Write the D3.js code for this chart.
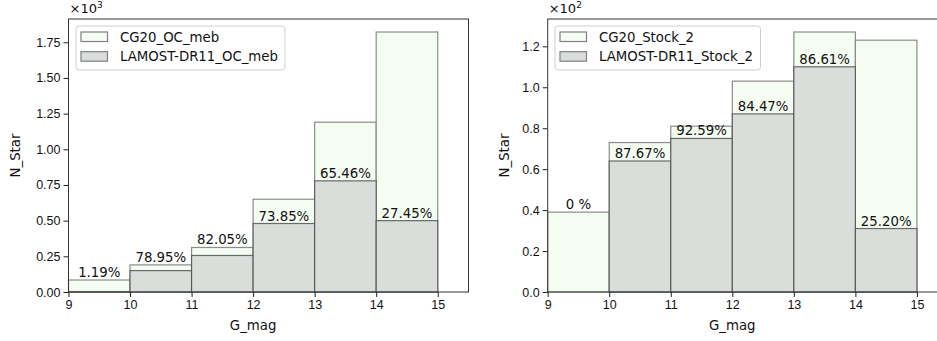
<!DOCTYPE html>
<html>
<head>
<meta charset="utf-8">
<script src="https://cdn.jsdelivr.net/npm/d3@7"></script>
<style>
  body { margin: 0; background: #fff; }
  svg { font-family: "DejaVu Sans", sans-serif; }
</style>
</head>
<body>
<div id="chart"></div>
<script>
// bin edges (G_mag) and counts
const binStarts = [9, 10, 11, 12, 13, 14];

const ocCG20 = [84, 190, 312, 650, 1190, 1822];
const ocLamost = [1, 150, 256, 480, 779, 500];
const ocPct = ["1.19%", "78.95%", "82.05%", "73.85%", "65.46%", "27.45%"];
// which bar top each percentage sits on
const ocPctOn = ["cg", "cg", "cg", "la", "la", "la"];

const stCG20 = [39, 73, 81, 103, 127, 123];
const stLamost = [0, 64, 75, 87, 110, 31];
const stPct = ["0 %", "87.67%", "92.59%", "84.47%", "86.61%", "25.20%"];
const stPctOn = ["cg", "la", "la", "la", "la", "la"];

const xTicks = [9, 10, 11, 12, 13, 14, 15];
const ocYTicks = [0, 0.25, 0.5, 0.75, 1.0, 1.25, 1.5, 1.75];
const stYTicks = [0, 0.2, 0.4, 0.6, 0.8, 1.0, 1.2];

const W = 937, H = 341;
const svg = d3.select("#chart").append("svg")
    .attr("width", W)
    .attr("height", H);

const cgFill = "#f5fcf2", cgStroke = "#8c8c8c";
const laFill = "#d9dedb", laStroke = "#4a4a4a";

function panel(opts) {
    const left = opts.left, top = 19, w = 400, h = 273;
    const g = svg.append("g").attr("transform", `translate(${left},${top})`);

    const x = d3.scaleLinear().domain([9, 15.5]).range([0, w]);
    const ymax = d3.max(opts.cg) * 1.05;
    const y = d3.scaleLinear().domain([0, ymax / opts.scale]).range([h, 0]);

    const data = binStarts.map((b, i) => ({
        x0: b, x1: b + 1, cg: opts.cg[i] / opts.scale, la: opts.la[i] / opts.scale,
        pct: opts.pct[i], on: opts.pctOn[i]
    }));

    // CG20 bars behind
    g.selectAll("rect.cg").data(data).enter().append("rect")
        .attr("class", "cg")
        .attr("x", d => x(d.x0))
        .attr("y", d => y(d.cg))
        .attr("width", d => x(d.x1) - x(d.x0))
        .attr("height", d => h - y(d.cg))
        .attr("fill", cgFill)
        .attr("stroke", cgStroke)
        .attr("stroke-width", 1.2);

    // LAMOST bars on top
    g.selectAll("rect.la").data(data).enter().append("rect")
        .attr("class", "la")
        .attr("x", d => x(d.x0))
        .attr("y", d => y(d.la))
        .attr("width", d => x(d.x1) - x(d.x0))
        .attr("height", d => h - y(d.la))
        .attr("fill", laFill)
        .attr("stroke", laStroke)
        .attr("stroke-opacity", 0.8)
        .attr("stroke-width", 1.2);

    // percentage labels
    g.selectAll("text.pct").data(data).enter().append("text")
        .attr("class", "pct")
        .attr("x", d => x(d.x0 + 0.5))
        .attr("y", d => y(d.on === "cg" ? d.cg : d.la) - 3)
        .attr("text-anchor", "middle")
        .style("font-size", "13.3px")
        .attr("fill", "#111")
        .text(d => d.pct);

    // axes
    const xAxis = g.append("g")
        .attr("transform", `translate(0,${h})`)
        .call(d3.axisBottom(x).tickValues(xTicks).tickFormat(d3.format("d")).tickSize(5).tickPadding(3));
    const yAxis = g.append("g")
        .call(d3.axisLeft(y).tickValues(opts.yTicks).tickFormat(d3.format(opts.fmt)).tickSize(5).tickPadding(3));
    [xAxis, yAxis].forEach(a => {
        a.select(".domain").remove();
        a.selectAll("line").attr("stroke", "#222");
        a.selectAll("text").style("font-size", "12.5px").attr("fill", "#111");
    });

    // spines
    g.append("rect")
        .attr("x", 0).attr("y", 0)
        .attr("width", w).attr("height", h)
        .attr("fill", "none")
        .attr("stroke", "#333")
        .attr("stroke-width", 1);

    // offset text
    const off = svg.append("text")
        .attr("x", left + 1)
        .attr("y", 13)
        .style("font-size", "13px")
        .attr("fill", "#111");
    off.append("tspan").text("\u00d710");
    off.append("tspan").attr("dy", -5).style("font-size", "9px").text(opts.exp);

    // axis labels
    svg.append("text")
        .attr("x", left + x(12))
        .attr("y", 330)
        .attr("text-anchor", "middle")
        .style("font-size", "13.3px")
        .attr("fill", "#111")
        .text("G_mag");
    svg.append("text")
        .attr("transform", `translate(${opts.ylabX},${top + h / 2}) rotate(-90)`)
        .attr("text-anchor", "middle")
        .style("font-size", "13.3px")
        .attr("fill", "#111")
        .text("N_Star");

    // legend
    const lg = g.append("g").attr("transform", `translate(${opts.legX},7)`);
    lg.append("rect")
        .attr("width", opts.legW).attr("height", 44)
        .attr("rx", 3)
        .attr("fill", "#fff").attr("fill-opacity", 0.8)
        .attr("stroke", "#d0d0d0");
    const items = [
        {name: opts.names[0], fill: cgFill},
        {name: opts.names[1], fill: laFill}
    ];
    items.forEach((it, i) => {
        lg.append("rect")
            .attr("x", 5).attr("y", 6 + i * 19.7)
            .attr("width", 26.5).attr("height", 9.5)
            .attr("fill", it.fill)
            .attr("stroke", "#808080")
            .attr("stroke-width", 1.2);
        lg.append("text")
            .attr("x", 44).attr("y", 15.5 + i * 19.7)
            .style("font-size", "13.3px")
            .attr("fill", "#111")
            .text(it.name);
    });
}

panel({
    left: 68.5, cg: ocCG20, la: ocLamost, pct: ocPct, pctOn: ocPctOn, scale: 1000, exp: "3",
    yTicks: ocYTicks, fmt: ".2f", ylabX: 20, legX: 7.5, legW: 209,
    names: ["CG20_OC_meb", "LAMOST-DR11_OC_meb"]
});
panel({
    left: 547.7, cg: stCG20, la: stLamost, pct: stPct, pctOn: stPctOn, scale: 100, exp: "2",
    yTicks: stYTicks, fmt: ".1f", ylabX: 509, legX: 7.3, legW: 205.5,
    names: ["CG20_Stock_2", "LAMOST-DR11_Stock_2"]
});
</script>
</body>
</html>
